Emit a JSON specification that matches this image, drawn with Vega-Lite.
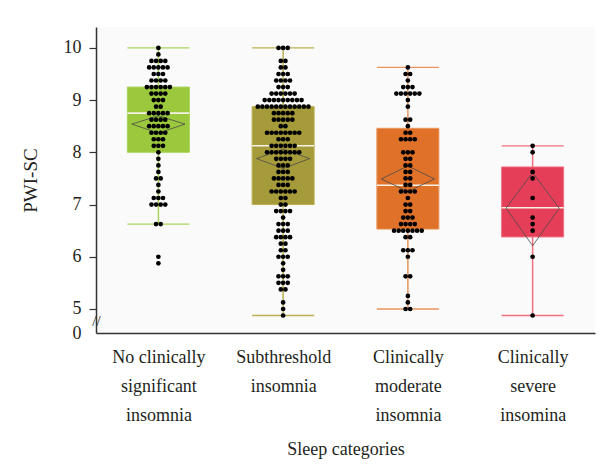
{
"$schema": "https://vega.github.io/schema/vega-lite/v6.json",
"autosize": "none",
"width": 499,
"height": 306,
"padding": {"left": 96, "top": 27, "right": 11, "bottom": 135},
"background": "white",
"config": {"view": {"fill": "#fafafa", "stroke": null}, "font": "Liberation Serif"},
"datasets": {
"stats": [
{"g":"None","lo":6.625,"q1":8.0,"med":8.75,"q3":9.25,"hi":10,"mean":8.54,"cilo":8.37,"cihi":8.70},
{"g":"Sub","lo":4.875,"q1":7.0,"med":8.125,"q3":8.875,"hi":10,"mean":7.88,"cilo":7.69,"cihi":8.06},
{"g":"Mod","lo":5.0,"q1":6.53,"med":7.37,"q3":8.46,"hi":9.625,"mean":7.49,"cilo":7.25,"cihi":7.74},
{"g":"Sev","lo":4.875,"q1":6.38,"med":6.94,"q3":7.72,"hi":8.125,"mean":6.93,"cilo":6.21,"cihi":7.61}
],
"dots": [
{"g":"None","v":10},{"g":"None","v":9.875},
{"g":"None","v":9.75},{"g":"None","v":9.75},{"g":"None","v":9.75},{"g":"None","v":9.75},
{"g":"None","v":9.625},{"g":"None","v":9.625},{"g":"None","v":9.625},{"g":"None","v":9.625},{"g":"None","v":9.625},
{"g":"None","v":9.5},{"g":"None","v":9.5},{"g":"None","v":9.5},
{"g":"None","v":9.375},{"g":"None","v":9.375},{"g":"None","v":9.375},{"g":"None","v":9.375},
{"g":"None","v":9.25},{"g":"None","v":9.25},{"g":"None","v":9.25},{"g":"None","v":9.25},{"g":"None","v":9.25},{"g":"None","v":9.25},
{"g":"None","v":9.125},{"g":"None","v":9.125},{"g":"None","v":9.125},{"g":"None","v":9.125},
{"g":"None","v":9},{"g":"None","v":9},{"g":"None","v":9},
{"g":"None","v":8.875},{"g":"None","v":8.875},
{"g":"None","v":8.75},{"g":"None","v":8.75},{"g":"None","v":8.75},{"g":"None","v":8.75},{"g":"None","v":8.75},
{"g":"None","v":8.625},{"g":"None","v":8.625},{"g":"None","v":8.625},{"g":"None","v":8.625},
{"g":"None","v":8.5},{"g":"None","v":8.5},{"g":"None","v":8.5},{"g":"None","v":8.5},{"g":"None","v":8.5},
{"g":"None","v":8.375},{"g":"None","v":8.375},{"g":"None","v":8.375},{"g":"None","v":8.375},
{"g":"None","v":8.25},{"g":"None","v":8.25},{"g":"None","v":8.25},
{"g":"None","v":8.125},{"g":"None","v":8.125},{"g":"None","v":8.125},
{"g":"None","v":8},{"g":"None","v":7.875},{"g":"None","v":7.75},{"g":"None","v":7.625},
{"g":"None","v":7.5},{"g":"None","v":7.5},
{"g":"None","v":7.375},{"g":"None","v":7.25},
{"g":"None","v":7.125},{"g":"None","v":7.125},{"g":"None","v":7.125},
{"g":"None","v":7},{"g":"None","v":7},{"g":"None","v":7},{"g":"None","v":7},
{"g":"None","v":6.625},{"g":"None","v":6.625},
{"g":"None","v":6},{"g":"None","v":5.875},

{"g":"Sub","v":10},{"g":"Sub","v":10},{"g":"Sub","v":10},
{"g":"Sub","v":9.75},{"g":"Sub","v":9.75},
{"g":"Sub","v":9.625},{"g":"Sub","v":9.625},
{"g":"Sub","v":9.5},{"g":"Sub","v":9.5},{"g":"Sub","v":9.5},
{"g":"Sub","v":9.375},{"g":"Sub","v":9.375},{"g":"Sub","v":9.375},{"g":"Sub","v":9.375},
{"g":"Sub","v":9.25},{"g":"Sub","v":9.25},{"g":"Sub","v":9.25},
{"g":"Sub","v":9.125},{"g":"Sub","v":9.125},{"g":"Sub","v":9.125},{"g":"Sub","v":9.125},{"g":"Sub","v":9.125},{"g":"Sub","v":9.125},
{"g":"Sub","v":9},{"g":"Sub","v":9},{"g":"Sub","v":9},{"g":"Sub","v":9},{"g":"Sub","v":9},{"g":"Sub","v":9},{"g":"Sub","v":9},{"g":"Sub","v":9},{"g":"Sub","v":9},
{"g":"Sub","v":8.875},{"g":"Sub","v":8.875},{"g":"Sub","v":8.875},{"g":"Sub","v":8.875},{"g":"Sub","v":8.875},{"g":"Sub","v":8.875},{"g":"Sub","v":8.875},{"g":"Sub","v":8.875},{"g":"Sub","v":8.875},{"g":"Sub","v":8.875},{"g":"Sub","v":8.875},{"g":"Sub","v":8.875},
{"g":"Sub","v":8.75},{"g":"Sub","v":8.75},{"g":"Sub","v":8.75},{"g":"Sub","v":8.75},{"g":"Sub","v":8.75},
{"g":"Sub","v":8.625},{"g":"Sub","v":8.625},{"g":"Sub","v":8.625},{"g":"Sub","v":8.625},{"g":"Sub","v":8.625},
{"g":"Sub","v":8.5},{"g":"Sub","v":8.5},
{"g":"Sub","v":8.375},{"g":"Sub","v":8.375},{"g":"Sub","v":8.375},{"g":"Sub","v":8.375},{"g":"Sub","v":8.375},{"g":"Sub","v":8.375},{"g":"Sub","v":8.375},{"g":"Sub","v":8.375},
{"g":"Sub","v":8.25},{"g":"Sub","v":8.25},{"g":"Sub","v":8.25},
{"g":"Sub","v":8.125},{"g":"Sub","v":8.125},{"g":"Sub","v":8.125},{"g":"Sub","v":8.125},{"g":"Sub","v":8.125},{"g":"Sub","v":8.125},
{"g":"Sub","v":8},{"g":"Sub","v":8},{"g":"Sub","v":8},{"g":"Sub","v":8},{"g":"Sub","v":8},{"g":"Sub","v":8},{"g":"Sub","v":8},{"g":"Sub","v":8},
{"g":"Sub","v":7.875},{"g":"Sub","v":7.875},{"g":"Sub","v":7.875},{"g":"Sub","v":7.875},
{"g":"Sub","v":7.75},{"g":"Sub","v":7.75},{"g":"Sub","v":7.75},
{"g":"Sub","v":7.625},{"g":"Sub","v":7.625},{"g":"Sub","v":7.625},
{"g":"Sub","v":7.5},{"g":"Sub","v":7.5},{"g":"Sub","v":7.5},{"g":"Sub","v":7.5},{"g":"Sub","v":7.5},
{"g":"Sub","v":7.375},{"g":"Sub","v":7.375},{"g":"Sub","v":7.375},
{"g":"Sub","v":7.25},{"g":"Sub","v":7.25},{"g":"Sub","v":7.25},{"g":"Sub","v":7.25},{"g":"Sub","v":7.25},{"g":"Sub","v":7.25},
{"g":"Sub","v":7.125},{"g":"Sub","v":7.125},
{"g":"Sub","v":7},{"g":"Sub","v":7},
{"g":"Sub","v":6.875},{"g":"Sub","v":6.875},{"g":"Sub","v":6.875},{"g":"Sub","v":6.875},
{"g":"Sub","v":6.75},
{"g":"Sub","v":6.625},{"g":"Sub","v":6.625},{"g":"Sub","v":6.625},
{"g":"Sub","v":6.5},{"g":"Sub","v":6.5},{"g":"Sub","v":6.5},
{"g":"Sub","v":6.375},{"g":"Sub","v":6.375},{"g":"Sub","v":6.375},{"g":"Sub","v":6.375},
{"g":"Sub","v":6.25},{"g":"Sub","v":6.25},
{"g":"Sub","v":6.125},{"g":"Sub","v":6.125},
{"g":"Sub","v":6},{"g":"Sub","v":6},{"g":"Sub","v":6},
{"g":"Sub","v":5.875},{"g":"Sub","v":5.75},
{"g":"Sub","v":5.625},{"g":"Sub","v":5.625},{"g":"Sub","v":5.625},
{"g":"Sub","v":5.5},{"g":"Sub","v":5.5},{"g":"Sub","v":5.5},
{"g":"Sub","v":5.375},{"g":"Sub","v":5.375},
{"g":"Sub","v":5.125},{"g":"Sub","v":5},{"g":"Sub","v":4.875},

{"g":"Mod","v":9.625},
{"g":"Mod","v":9.5},{"g":"Mod","v":9.5},
{"g":"Mod","v":9.375},
{"g":"Mod","v":9.25},{"g":"Mod","v":9.25},{"g":"Mod","v":9.25},
{"g":"Mod","v":9.125},{"g":"Mod","v":9.125},{"g":"Mod","v":9.125},{"g":"Mod","v":9.125},{"g":"Mod","v":9.125},{"g":"Mod","v":9.125},
{"g":"Mod","v":9},{"g":"Mod","v":8.875},
{"g":"Mod","v":8.625},{"g":"Mod","v":8.625},
{"g":"Mod","v":8.5},
{"g":"Mod","v":8.375},{"g":"Mod","v":8.375},
{"g":"Mod","v":8.25},{"g":"Mod","v":8.25},{"g":"Mod","v":8.25},{"g":"Mod","v":8.25},
{"g":"Mod","v":8},{"g":"Mod","v":8},{"g":"Mod","v":8},
{"g":"Mod","v":7.875},{"g":"Mod","v":7.875},
{"g":"Mod","v":7.75},{"g":"Mod","v":7.75},
{"g":"Mod","v":7.625},{"g":"Mod","v":7.625},
{"g":"Mod","v":7.5},{"g":"Mod","v":7.5},
{"g":"Mod","v":7.375},{"g":"Mod","v":7.375},
{"g":"Mod","v":7.25},{"g":"Mod","v":7.25},{"g":"Mod","v":7.25},{"g":"Mod","v":7.25},
{"g":"Mod","v":7.125},
{"g":"Mod","v":7},{"g":"Mod","v":7},
{"g":"Mod","v":6.875},{"g":"Mod","v":6.875},
{"g":"Mod","v":6.75},{"g":"Mod","v":6.75},{"g":"Mod","v":6.75},
{"g":"Mod","v":6.625},{"g":"Mod","v":6.625},{"g":"Mod","v":6.625},{"g":"Mod","v":6.625},
{"g":"Mod","v":6.5},{"g":"Mod","v":6.5},{"g":"Mod","v":6.5},{"g":"Mod","v":6.5},{"g":"Mod","v":6.5},{"g":"Mod","v":6.5},{"g":"Mod","v":6.5},
{"g":"Mod","v":6.375},{"g":"Mod","v":6.375},
{"g":"Mod","v":6.125},{"g":"Mod","v":6.125},{"g":"Mod","v":6.125},
{"g":"Mod","v":6},
{"g":"Mod","v":5.625},{"g":"Mod","v":5.625},
{"g":"Mod","v":5.25},{"g":"Mod","v":5.125},
{"g":"Mod","v":5},{"g":"Mod","v":5},

{"g":"Sev","v":8.125},{"g":"Sev","v":8},{"g":"Sev","v":7.625},{"g":"Sev","v":7.5},{"g":"Sev","v":7.125},
{"g":"Sev","v":6.75},{"g":"Sev","v":6.625},{"g":"Sev","v":6.5},{"g":"Sev","v":6},{"g":"Sev","v":4.875}
]
},
"layer": [
{
"data": {"name": "stats"},
"transform": [{"calculate": "indexof(['None','Sub','Mod','Sev'], datum.g) + 1", "as": "gi"}],
"mark": {"type": "rule", "strokeWidth": 1.5},
"encoding": {
"x": {"field": "gi", "type": "quantitative", "scale": {"domain": [0.5, 4.5], "nice": false, "zero": false},
"axis": {"values": [1, 2, 3, 4], "labelExpr": "[['No clinically','significant','insomnia'],['Subthreshold','insomnia'],['Clinically','moderate','insomnia'],['Clinically','severe','insomina']][datum.value - 1]",
"ticks": false, "grid": false, "labelFontSize": 18, "labelLineHeight": 29, "labelPadding": 15, "labelColor": "#231f20", "labelFlush": false, "labelOverlap": false,
"title": "Sleep categories", "titleFontSize": 18, "titleFontWeight": "normal", "titleColor": "#231f20", "titlePadding": 16,
"domainColor": "#333333", "domainWidth": 1.5}},
"y": {"field": "lo", "type": "quantitative", "scale": {"domain": [4.54, 10.4], "nice": false, "zero": false},
"axis": {"title": "PWI-SC", "titleFontSize": 19, "titleFontWeight": "normal", "titleColor": "#231f20", "titlePadding": 23,
"values": [4.54, 4.77, 5, 6, 7, 8, 9, 10],
"labelExpr": "datum.value < 4.6 ? '0' : datum.value < 4.9 ? '//' : datum.label",
"labelFontSize": {"condition": {"test": "datum.value > 4.6 && datum.value < 4.9", "value": 15}, "value": 18},
"labelPadding": {"condition": {"test": "datum.value > 4.6 && datum.value < 4.9", "value": -7}, "value": 8},
"labelAlign": {"condition": {"test": "datum.value > 4.6 && datum.value < 4.9", "value": "center"}, "value": "right"},
"tickColor": {"condition": {"test": "datum.value < 4.9", "value": "transparent"}, "value": "#333333"},
"tickSize": 7, "tickWidth": 1.2, "domainColor": "#333333", "domainWidth": 1.5, "grid": false,
"labelColor": "#231f20", "labelOverlap": false, "labelFlush": false, "labelBound": false}},
"y2": {"field": "hi"},
"stroke": {"field": "g", "type": "nominal", "scale": {"domain": ["None", "Sub", "Mod", "Sev"], "range": ["#a9d45e", "#bcb052", "#e9955c", "#f07080"]}, "legend": null}
}
},
{
"data": {"name": "stats"},
"transform": [{"calculate": "indexof(['None','Sub','Mod','Sev'], datum.g) + 1", "as": "gi"},
{"calculate": "datum.gi - 0.2485", "as": "xa"}, {"calculate": "datum.gi + 0.2485", "as": "xb"}],
"mark": {"type": "bar", "strokeWidth": 1},
"encoding": {
"x": {"field": "xa", "type": "quantitative"},
"x2": {"field": "xb"},
"y": {"field": "q1", "type": "quantitative"},
"y2": {"field": "q3"},
"fill": {"field": "g", "type": "nominal", "scale": {"domain": ["None", "Sub", "Mod", "Sev"], "range": ["#9bc83c", "#a69b3a", "#df7129", "#e53e58"]}, "legend": null},
"stroke": {"field": "g", "type": "nominal", "legend": null}
}
},
{
"data": {"name": "stats"},
"transform": [{"calculate": "indexof(['None','Sub','Mod','Sev'], datum.g) + 1", "as": "gi"},
{"calculate": "datum.gi - 0.2485", "as": "xa"}, {"calculate": "datum.gi + 0.2485", "as": "xb"},
{"fold": ["lo", "hi"], "as": ["end", "val"]}],
"mark": {"type": "rule", "strokeWidth": 1.3},
"encoding": {
"x": {"field": "xa", "type": "quantitative"},
"x2": {"field": "xb"},
"y": {"field": "val", "type": "quantitative"},
"stroke": {"field": "g", "type": "nominal", "legend": null}
}
},
{
"data": {"name": "stats"},
"transform": [{"calculate": "indexof(['None','Sub','Mod','Sev'], datum.g) + 1", "as": "gi"},
{"calculate": "datum.gi - 0.2485", "as": "xa"}, {"calculate": "datum.gi + 0.2485", "as": "xb"}],
"mark": {"type": "rule", "strokeWidth": 1.6, "color": "#f4f1e6"},
"encoding": {
"x": {"field": "xa", "type": "quantitative"},
"x2": {"field": "xb"},
"y": {"field": "med", "type": "quantitative"}
}
},
{
"data": {"name": "stats"},
"transform": [{"calculate": "indexof(['None','Sub','Mod','Sev'], datum.g) + 1", "as": "gi"},
{"calculate": "[0, 1, 2, 3, 4]", "as": "k"},
{"flatten": ["k"]},
{"calculate": "datum.gi + [-0.213, 0, 0.213, 0, -0.213][datum.k]", "as": "dx"},
{"calculate": "[datum.mean, datum.cihi, datum.mean, datum.cilo, datum.mean][datum.k]", "as": "dy"}],
"mark": {"type": "line", "stroke": "#4a4a4a", "strokeWidth": 0.8},
"encoding": {
"x": {"field": "dx", "type": "quantitative"},
"y": {"field": "dy", "type": "quantitative"},
"detail": {"field": "g", "type": "nominal"},
"order": {"field": "k", "type": "quantitative"}
}
},
{
"data": {"name": "dots"},
"transform": [{"calculate": "indexof(['None','Sub','Mod','Sev'], datum.g) + 1", "as": "gi"},
{"window": [{"op": "row_number", "as": "rn"}], "groupby": ["g", "v"]},
{"joinaggregate": [{"op": "count", "as": "n"}], "groupby": ["g", "v"]},
{"calculate": "datum.gi + (datum.rn - (datum.n + 1) / 2) * 0.0369", "as": "xp"}],
"mark": {"type": "circle", "size": 22, "color": "#000000", "opacity": 1},
"encoding": {
"x": {"field": "xp", "type": "quantitative"},
"y": {"field": "v", "type": "quantitative"}
}
}
]
}
